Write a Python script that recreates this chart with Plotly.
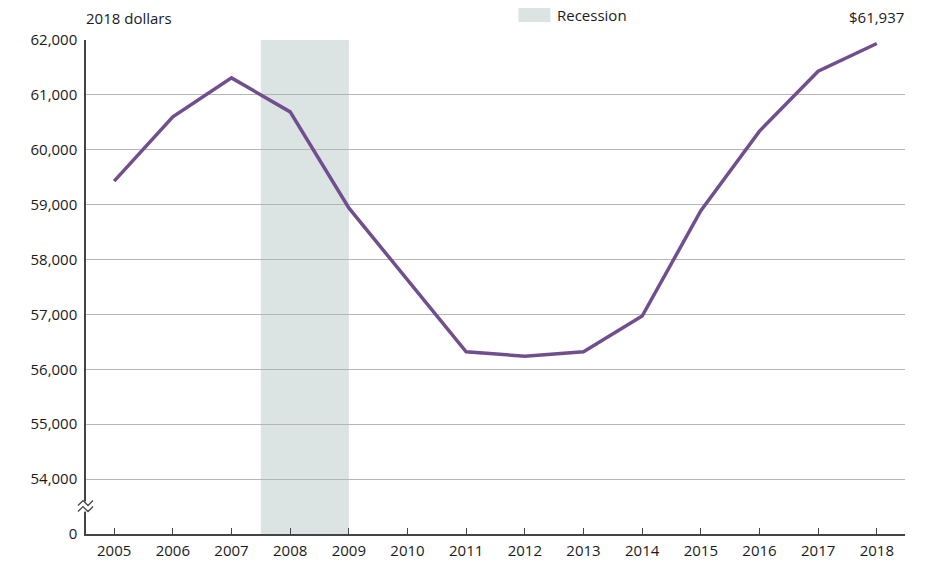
import plotly.graph_objects as go

years = [2005, 2006, 2007, 2008, 2009, 2010, 2011, 2012, 2013, 2014, 2015, 2016, 2017, 2018]
income = [59430, 60600, 61310, 60690, 58940, 57630, 56320, 56240, 56320, 56970, 58890, 60340, 61430, 61937]
tick_vals = [53000, 54000, 55000, 56000, 57000, 58000, 59000, 60000, 61000, 62000]
tick_text = ["0", "54,000", "55,000", "56,000", "57,000", "58,000", "59,000", "60,000", "61,000", "62,000"]
recession = [2007.5, 2009.0]

FONT = "Open Sans, sans-serif"
TXT = "#1a1a1a"

fig = go.Figure()
fig.add_trace(go.Scatter(x=years, y=income, mode="lines",
                         line=dict(color="#714f8f", width=3.5),
                         hoverinfo="x+y", showlegend=False))

fig.add_shape(type="rect", xref="x", yref="y", x0=recession[0], x1=recession[1],
              y0=tick_vals[0], y1=tick_vals[-1],
              fillcolor="#dbe3e3", line_width=0, layer="below")

# axis break: white gap + two zigzags
fig.add_shape(type="path", xref="paper", yref="y", xsizemode="pixel", ysizemode="pixel",
              xanchor=0, yanchor=53500,
              path="M -3,-5 L 3,-5 L 3,5 L -3,5 Z", fillcolor="white", line=dict(width=0))
fig.add_shape(type="path", xref="paper", yref="y", xsizemode="pixel", ysizemode="pixel",
              xanchor=0, yanchor=53500,
              path="M -8,1 L -3,6 L 2,1 L 7,6", line=dict(color="#444444", width=1.3))
fig.add_shape(type="path", xref="paper", yref="y", xsizemode="pixel", ysizemode="pixel",
              xanchor=0, yanchor=53500,
              path="M -8,-5 L -3,0 L 2,-5 L 7,0", line=dict(color="#444444", width=1.3))

# legend swatch
fig.add_shape(type="rect", xref="paper", yref="paper", xsizemode="pixel", ysizemode="pixel",
              xanchor=0.528, yanchor=1.0, x0=0, x1=32, y0=18, y1=32,
              fillcolor="#dbe3e3", line_width=0)
fig.add_annotation(xref="paper", yref="paper", x=0.528, y=1.0, xshift=37, yshift=25,
                   text="Recession", showarrow=False, xanchor="left", yanchor="middle",
                   font=dict(family=FONT, size=15, color=TXT))

fig.add_annotation(xref="paper", yref="paper", x=0, y=1.0, yshift=22, xshift=-2,
                   text="2018 dollars", showarrow=False, xanchor="left", yanchor="middle",
                   font=dict(family=FONT, size=15, color=TXT))
fig.add_annotation(x=years[-1], y=income[-1], yshift=26, xshift=0,
                   text="$" + f"{income[-1]:,}", showarrow=False, xanchor="center", yanchor="middle",
                   font=dict(family=FONT, size=15, color=TXT))

fig.update_xaxes(range=[2004.52, 2018.48], tickvals=years, ticktext=[str(y) for y in years],
                 showgrid=False, showline=True, linecolor="#444444", linewidth=1.5,
                 ticks="inside", ticklen=6, tickcolor="#444444", tickwidth=1.2,
                 ticklabelstandoff=2,
                 tickfont=dict(family=FONT, size=15, color=TXT), zeroline=False, fixedrange=True)
fig.update_yaxes(range=[53000, 62000], tickvals=tick_vals, ticktext=tick_text,
                 showgrid=True, gridcolor="#b5b5b5", gridwidth=1.2,
                 showline=True, linecolor="#444444", linewidth=1.5, ticks="",
                 ticklabelstandoff=4,
                 tickfont=dict(family=FONT, size=15, color=TXT), zeroline=False, fixedrange=True)

fig.update_layout(width=944, height=581, margin=dict(l=86, r=39, t=40, b=47),
                  plot_bgcolor="white", paper_bgcolor="white", showlegend=False)

fig.write_html("out.html", config={"displayModeBar": False},
               post_script="document.body.style.margin='0';")
